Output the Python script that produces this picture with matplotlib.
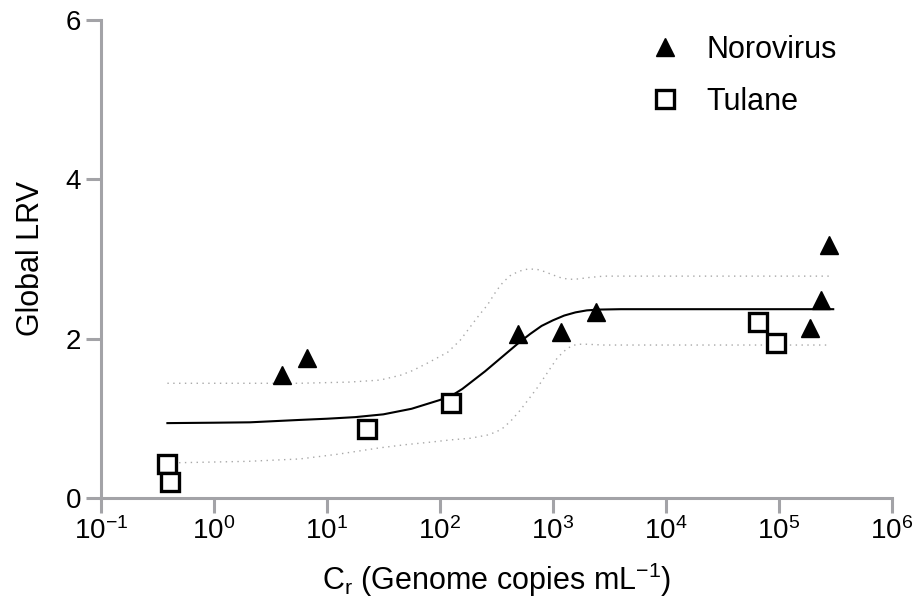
import matplotlib
matplotlib.use("Agg")
import matplotlib.pyplot as plt
import numpy as np

plt.rcParams['font.family'] = ['Liberation Sans', 'DejaVu Sans']
plt.rcParams['mathtext.fontset'] = 'custom'
plt.rcParams['mathtext.rm'] = 'Liberation Sans'
plt.rcParams['mathtext.it'] = 'Liberation Sans:italic'
plt.rcParams['mathtext.default'] = 'regular'

# --- data ---
noro_x = [4.0, 6.7, 490, 1170, 2400, 188000, 235000, 275000]
noro_y = [1.55, 1.76, 2.06, 2.08, 2.33, 2.13, 2.48, 3.18]

tulane_x = [0.383, 0.407, 22.7, 125, 64800, 94400]
tulane_y = [0.43, 0.20, 0.87, 1.19, 2.21, 1.94]

# fitted curve (log10 x, y)
fit_logx = [-0.41, 0.0, 0.32, 0.76, 1.0, 1.25, 1.5, 1.75, 2.0, 2.1, 2.2, 2.3,
            2.4, 2.5, 2.6, 2.7, 2.8, 2.9, 3.0, 3.1, 3.2, 3.3, 3.4, 3.6, 5.48]
fit_y = [0.94, 0.945, 0.95, 0.98, 0.995, 1.015, 1.05, 1.12, 1.23, 1.28, 1.37,
         1.48, 1.59, 1.71, 1.83, 1.95, 2.06, 2.16, 2.23, 2.29, 2.33, 2.355,
         2.365, 2.37, 2.37]

# confidence band (dotted)
upper_logx = [-0.41, 0.76, 1.2, 1.47, 1.65, 1.76, 1.9, 2.07, 2.18, 2.27, 2.35,
              2.42, 2.5, 2.56, 2.63, 2.71, 2.78, 2.86, 2.93, 3.0, 3.08, 3.15,
              3.23, 3.3, 3.45, 5.45]
upper_y = [1.44, 1.44, 1.455, 1.48, 1.54, 1.60, 1.70, 1.83, 1.98, 2.15, 2.30,
           2.42, 2.60, 2.71, 2.80, 2.85, 2.875, 2.87, 2.84, 2.80, 2.76, 2.745,
           2.75, 2.765, 2.785, 2.785]
lower_logx = [-0.41, 0.3, 0.76, 1.1, 1.47, 1.7, 1.91, 2.1, 2.27, 2.42, 2.5,
              2.56, 2.63, 2.71, 2.78, 2.86, 2.95, 3.04, 3.09, 3.13, 3.18, 3.22,
              3.3, 3.45, 5.45]
lower_y = [0.44, 0.46, 0.49, 0.55, 0.63, 0.67, 0.70, 0.73, 0.75, 0.79, 0.83,
           0.88, 0.97, 1.10, 1.23, 1.38, 1.57, 1.76, 1.83, 1.88, 1.915, 1.93,
           1.93, 1.92, 1.92]

xticks = [1e-1, 1e0, 1e1, 1e2, 1e3, 1e4, 1e5, 1e6]
yticks = [0, 2, 4, 6]

spine_c = '#a3a3a7'
band_c = '#a8a8a8'

fig = plt.figure(figsize=(9.17, 6.13), dpi=100)
ax = fig.add_axes([100.7/917, 1-498/613, (892-100.7)/917, (498-20)/613])

ax.plot(10**np.array(upper_logx), upper_y, color=band_c, lw=1.0,
        linestyle=(0, (1, 3.2)), zorder=1)
ax.plot(10**np.array(lower_logx), lower_y, color=band_c, lw=1.0,
        linestyle=(0, (1, 3.2)), zorder=1)
ax.plot(10**np.array(fit_logx), fit_y, color='black', lw=1.5, zorder=2)

ax.plot(noro_x, noro_y, linestyle='none', marker='^', markersize=13.5,
        color='black', markeredgewidth=1, label='Norovirus', zorder=3)
ax.plot(tulane_x, tulane_y, linestyle='none', marker='s', markersize=12.7,
        markerfacecolor='white', markeredgecolor='black', markeredgewidth=2.4,
        label='Tulane', zorder=3)

ax.set_xscale('log')
ax.set_xlim(1e-1, 1e6)
ax.set_ylim(0, 6)
ax.set_xticks(xticks)
ax.set_yticks(yticks)
ax.xaxis.set_minor_locator(matplotlib.ticker.NullLocator())
ax.set_yticklabels([str(v) for v in yticks])

for s in ['top', 'right']:
    ax.spines[s].set_visible(False)
for s in ['left', 'bottom']:
    ax.spines[s].set_color(spine_c)
    ax.spines[s].set_linewidth(2.2)
ax.tick_params(axis='both', which='major', length=11, width=2.2, color=spine_c,
               labelsize=20, pad=3)

ax.set_ylabel('Global LRV', fontsize=22, labelpad=14)
ax.set_xlabel(r'C$_{r}$ (Genome copies mL$^{-1}$)', fontsize=22, labelpad=11)

leg = ax.legend(loc='upper left', bbox_to_anchor=(650/917, 1-35/613),
                bbox_transform=fig.transFigure, frameon=False, fontsize=22,
                handlelength=1.0, handletextpad=0.85, labelspacing=0.72,
                borderpad=0, borderaxespad=0, numpoints=1)

fig.savefig('out.png', dpi=100)
